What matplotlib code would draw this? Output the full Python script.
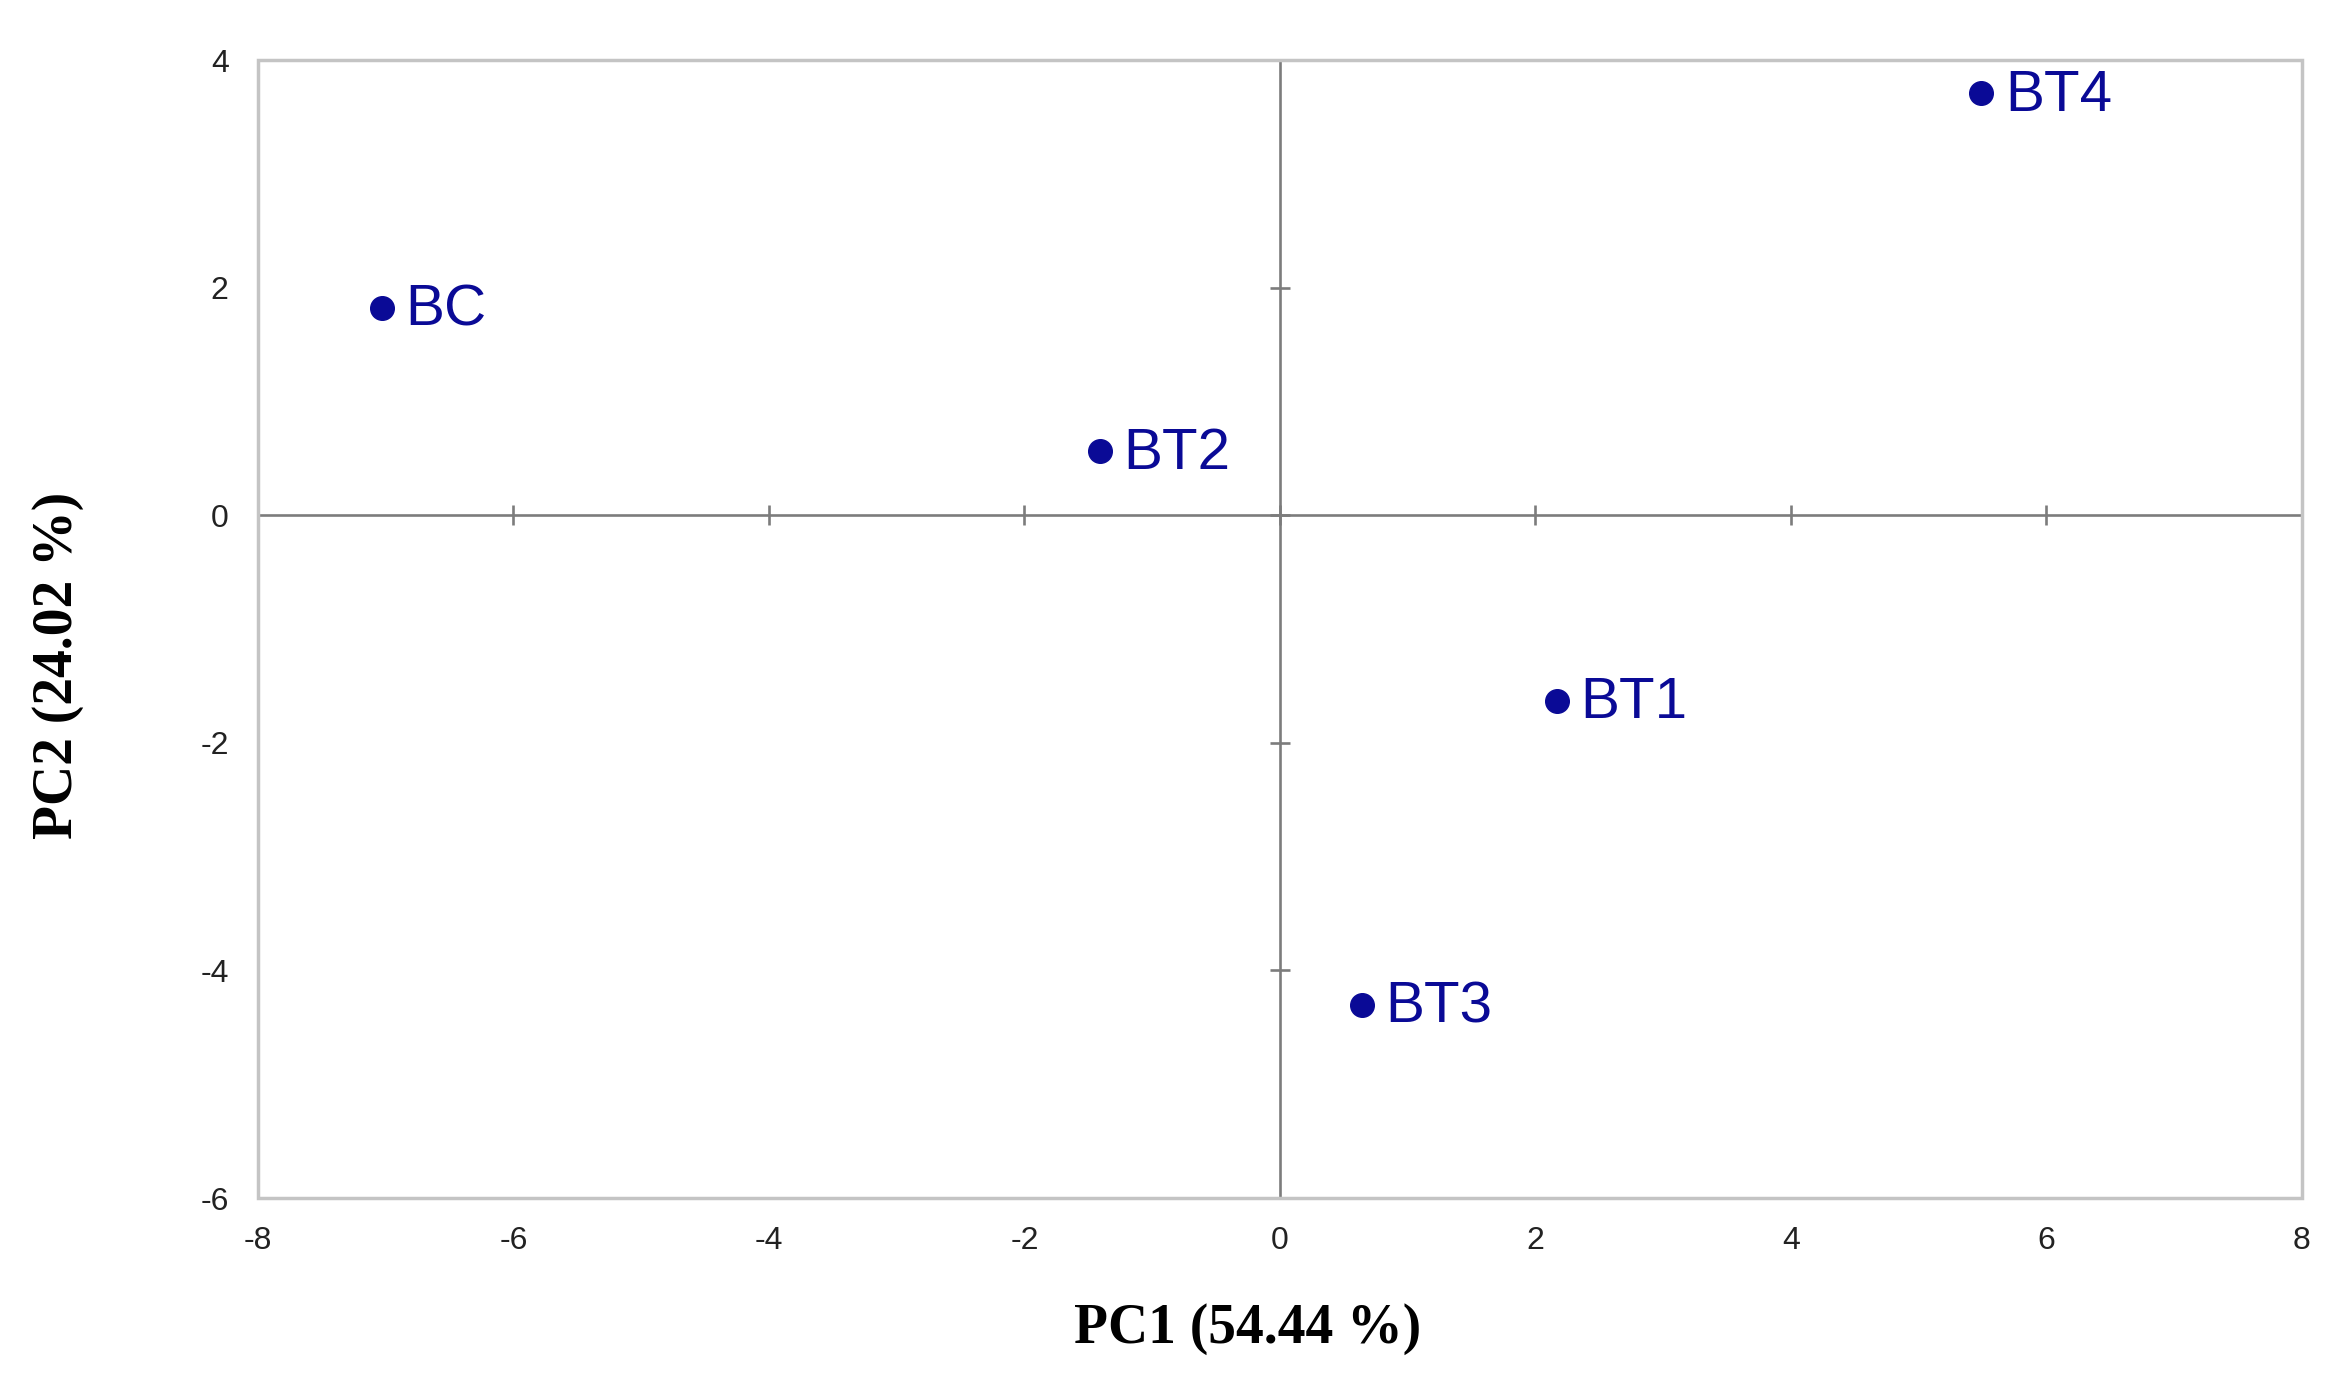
"""
PCA score plot (PC1 vs PC2) for the BC / BT samples
"""
import matplotlib
matplotlib.use('Agg')
import numpy as np
from matplotlib import pyplot as plt
from matplotlib.patches import Rectangle


samples = ['BC', 'BT2', 'BT4', 'BT1', 'BT3']
pc1 = [-7.03, -1.41, 5.49, 2.17, 0.64]
pc2 = [1.82, 0.56, 3.71, -1.63, -4.30]

x_ticks = [-8, -6, -4, -2, 0, 2, 4, 6, 8]
y_ticks = [-6, -4, -2, 0, 2, 4]
x_label = 'PC1 (54.44 %)'
y_label = 'PC2 (24.02 %)'

navy = '#0a0a96'
frame_grey = '#c4c4c4'
zero_grey = '#7c7c7c'

fig = plt.figure(figsize=(23.51, 13.89), dpi=100)
ax = fig.add_axes([0.1097, 0.1375, 0.8694, 0.8193])

xmin, xmax = x_ticks[0], x_ticks[-1]
ymin, ymax = y_ticks[0], y_ticks[-1]
ax.set_xlim(xmin, xmax)
ax.set_ylim(ymin, ymax)

# outer frame is light grey, no tick marks on it
for side in ax.spines.values():
    side.set_visible(False)
ax.add_patch(Rectangle((0, 0), 1, 1, transform=ax.transAxes, fill=False,
                       edgecolor=frame_grey, linewidth=2.5, zorder=1, clip_on=False))

ax.set_xticks(x_ticks)
ax.set_yticks(y_ticks)
ax.set_xticklabels([str(t) for t in x_ticks], fontfamily='Liberation Sans', fontsize=23, color='#222222')
ax.set_yticklabels([str(t) for t in y_ticks], fontfamily='Liberation Sans', fontsize=23, color='#222222')
ax.tick_params(axis='x', length=0, pad=20)
ax.tick_params(axis='y', length=0, pad=21)

# zero axes with crossing tick marks (no labels)
x0_frac = (0 - xmin) / (xmax - xmin)
y0_frac = (0 - ymin) / (ymax - ymin)
sx = ax.secondary_xaxis(y0_frac)
sy = ax.secondary_yaxis(x0_frac)
for sec in (sx, sy):
    for sp in sec.spines.values():
        sp.set_color(zero_grey)
        sp.set_linewidth(1.9)
    sec.tick_params(direction='inout', length=15, width=1.9, color=zero_grey,
                    labelbottom=False, labeltop=False, labelleft=False, labelright=False)
sx.set_xticks(x_ticks)
sy.set_yticks(y_ticks)

ax.plot(pc1, pc2, 'o', color=navy, markersize=17, zorder=5, clip_on=False)
for name, x, y in zip(samples, pc1, pc2):
    ax.annotate(name, (x, y), xytext=(17, -2), textcoords='offset points',
                ha='left', va='center', fontsize=42, color=navy,
                fontfamily='Liberation Sans', zorder=6)

ax.set_xlabel(x_label, fontfamily='Liberation Serif', fontweight='bold', fontsize=40)
ax.set_ylabel(y_label, fontfamily='Liberation Serif', fontweight='bold', fontsize=40)
ax.xaxis.set_label_coords(0.484, -0.092)
ax.yaxis.set_label_coords(-0.085, 0.468)

fig.savefig('out.png', dpi=100, facecolor='white')
